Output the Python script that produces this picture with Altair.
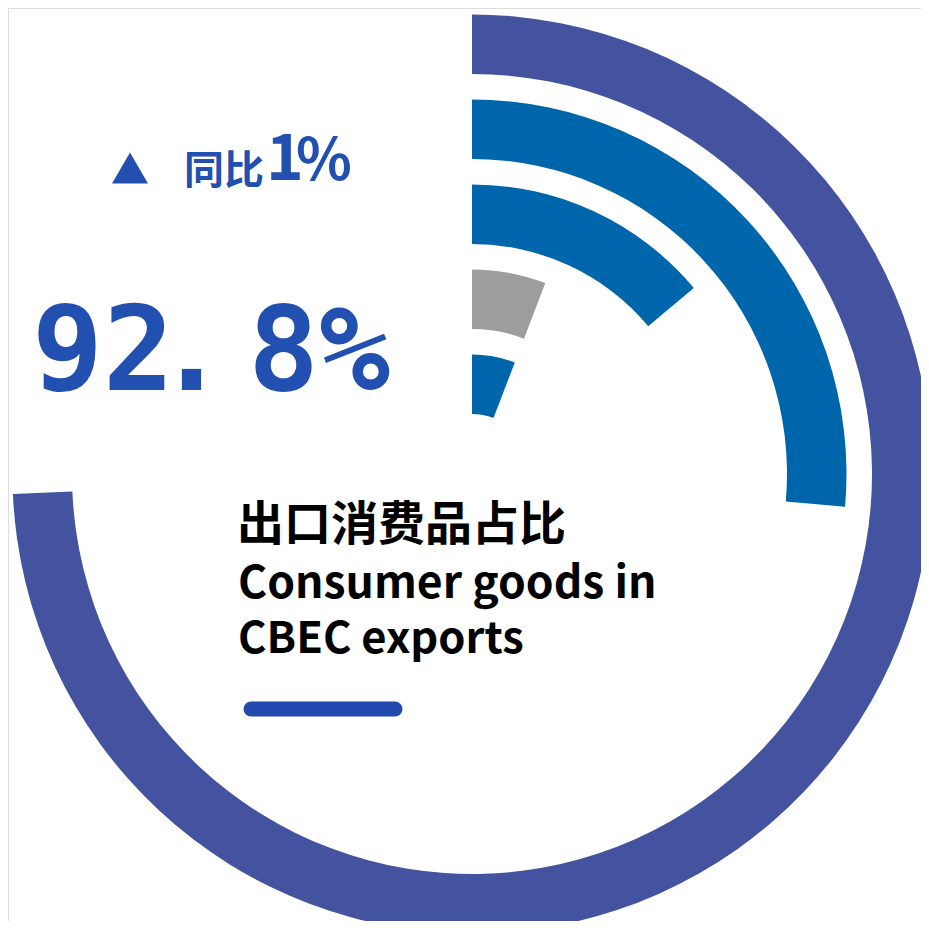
import altair as alt
import pandas as pd

# ---- data ----
ring_names = ["ring_a", "ring_b", "ring_c", "ring_d", "ring_e"]   # outer -> inner
ring_level = [5, 4, 3, 2, 1]
sweep_deg = [267.5, 95, 50, 21, 21]
ring_colors = ["#43539F", "#0066AC", "#0066AC", "#9D9D9D", "#0066AC"]

headline_int = "92"
headline_dot = "."
headline_dec = "8%"
yoy_label = "同比"
yoy_num = "1"
yoy_pct = "%"
title_lines = ["出口消费品占比", "Consumer goods in", "CBEC exports"]

df = pd.DataFrame({
    "name": ring_names,
    "level": ring_level,
    "sweep": sweep_deg,
    "start": [0] * len(ring_names),
})

CX, CY = 464, 466
BLUE_TXT = "#2150B0"

rings = alt.Chart(df).transform_calculate(
    outer="datum.level + 0.7"
).mark_arc(stroke=None).encode(
    x=alt.value(CX),
    y=alt.value(CY),
    theta=alt.Theta("sweep:Q", scale=alt.Scale(domain=[0, 360], range=[0, 6.283185307179586])),
    theta2=alt.Theta2("start:Q"),
    radius=alt.Radius("outer:Q", scale=alt.Scale(type="linear", domain=[1, 5], range=[60, 400], zero=False)),
    radius2=alt.Radius2("level:Q"),
    color=alt.Color("name:N", scale=alt.Scale(domain=ring_names, range=ring_colors), legend=None),
)

one = pd.DataFrame({"k": [0]})


def txt(s, x, y, size, font, color, weight="bold"):
    return alt.Chart(one).mark_text(
        text=s, font=font, fontWeight=weight, fontSize=size,
        align="left", baseline="alphabetic", color=color
    ).encode(x=alt.value(x), y=alt.value(y))


tri = alt.Chart(one).mark_point(shape="triangle-up", filled=True, size=1296, opacity=1, color=BLUE_TXT).encode(
    x=alt.value(122), y=alt.value(160)
)

yoy1 = txt(yoy_label, 176, 176, 40, "Noto Sans CJK SC", BLUE_TXT)
yoy2 = txt(yoy_num, 258, 172, 64, "Noto Sans CJK SC", BLUE_TXT)
yoy3 = txt(yoy_pct, 288, 172, 58, "Noto Sans CJK SC", BLUE_TXT)

big1 = txt(headline_int, 24, 382, 118, "DejaVu Sans Mono", BLUE_TXT)
big2 = txt(headline_dot, 148, 382, 118, "DejaVu Sans Mono", BLUE_TXT)
big3 = txt(headline_dec, 240, 382, 118, "DejaVu Sans Mono", BLUE_TXT)

t1 = txt(title_lines[0], 229, 532, 47, "Noto Sans CJK SC", "#000000")
t2 = txt(title_lines[1], 230, 590, 44.5, "Noto Sans CJK SC", "#000000")
t3 = txt(title_lines[2], 230, 645, 43.5, "Noto Sans CJK SC", "#000000")

bar = alt.Chart(one).mark_rule(strokeWidth=15, strokeCap="round", color="#2349AE").encode(
    x=alt.value(243), x2=alt.value(387), y=alt.value(701)
)

chart = alt.layer(rings, tri, yoy1, yoy2, yoy3, big1, big2, big3, t1, t2, t3, bar).properties(
    width=913, height=913, padding=0,
    autosize=alt.AutoSizeParams(type="none"),
).configure_view(stroke="transparent", strokeWidth=0).configure(background="#FFFFFF")

chart.save("out.html", embed_options={"renderer": "svg", "actions": False})
